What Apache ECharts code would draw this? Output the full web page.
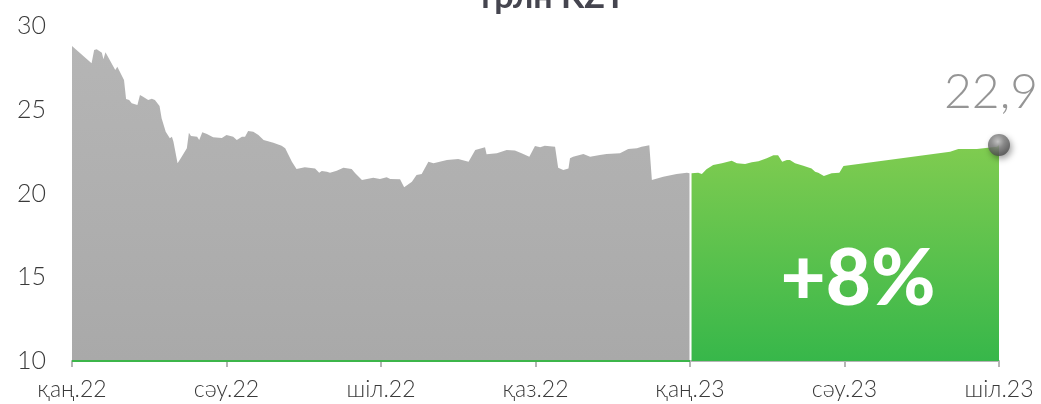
<!DOCTYPE html>
<html>
<head>
<meta charset="utf-8">
<script src="https://cdn.jsdelivr.net/npm/echarts@6/dist/echarts.min.js"></script>
<style>
html,body{margin:0;padding:0;background:#fff;}
#chart{width:1041px;height:404px;}
</style>
</head>
<body>
<div id="chart"></div>
<script>
// x positions are in months since Jan 2022
const tickLabels = ['қаң.22','сәу.22','шіл.22','қаз.22','қаң.23','сәу.23','шіл.23'];

const prevMonths = [0,0.38,0.43,0.48,0.58,0.61,0.65,0.84,0.88,1.01,1.05,1.11,1.16,1.27,1.32,1.38,1.48,1.55,1.61,1.70,1.74,1.77,1.82,1.90,1.94,1.97,2.05,2.13,2.23,2.27,2.31,2.43,2.47,2.53,2.62,2.74,2.91,3.00,3.13,3.20,3.30,3.36,3.42,3.52,3.62,3.72,3.91,4.07,4.14,4.27,4.36,4.52,4.72,4.80,4.85,4.95,5.01,5.14,5.27,5.43,5.50,5.63,5.85,5.98,6.11,6.18,6.37,6.45,6.60,6.69,6.79,6.92,7.02,7.28,7.50,7.70,7.83,8.02,8.05,8.25,8.44,8.60,8.73,8.88,8.99,9.09,9.18,9.38,9.44,9.54,9.64,9.67,9.73,9.93,10.06,10.25,10.38,10.64,10.80,10.97,11.06,11.21,11.26,11.48,11.74,11.94,11.99];
const prevValues = [28.81,27.77,28.57,28.61,28.41,28.01,28.43,27.37,27.57,26.78,25.64,25.58,25.39,25.28,25.88,25.78,25.58,25.66,25.58,25.22,24.49,24.59,23.69,23.30,23.39,23.09,21.80,22.20,22.70,23.63,23.43,23.39,23.19,23.65,23.55,23.36,23.31,23.49,23.39,23.19,23.39,23.39,23.73,23.69,23.49,23.19,23.03,22.85,22.70,21.90,21.46,21.56,21.50,21.24,21.34,21.30,21.24,21.36,21.54,21.46,21.21,20.81,20.94,20.87,20.97,20.87,20.85,20.37,20.70,21.10,21.16,21.90,21.80,22.00,22.06,21.90,22.60,22.76,22.34,22.40,22.60,22.56,22.40,22.20,22.84,22.76,22.85,22.79,21.54,21.40,21.50,22.10,22.20,22.36,22.20,22.30,22.36,22.40,22.66,22.70,22.79,22.88,20.81,21.00,21.16,21.24,21.21];

const currMonths = [12.03,12.16,12.23,12.32,12.45,12.62,12.81,12.91,13.07,13.20,13.33,13.49,13.62,13.71,13.79,13.88,13.94,14.04,14.20,14.36,14.43,14.49,14.60,14.75,14.90,14.98,17.05,17.21,17.44,17.57,17.96,18];
const currValues = [21.21,21.24,21.16,21.45,21.70,21.80,21.96,21.80,21.76,21.86,21.92,22.10,22.28,22.28,21.90,22.00,22.00,21.80,21.66,21.50,21.30,21.24,21.04,21.21,21.24,21.64,22.50,22.66,22.66,22.66,22.79,22.90];

const lastLabel = '22,9';
const changeLabel = '+8%';
const titleText = 'трлн KZT';

const prevData = prevMonths.map((m,i)=>[m, prevValues[i]]);
const currData = currMonths.map((m,i)=>[m, currValues[i]]);
const lastPoint = currData[currData.length-1];

const chart = echarts.init(document.getElementById('chart'));
chart.setOption({
  animation:false,
  grid:{left:72,right:42,top:26,bottom:43},
  xAxis:{
    type:'value',min:0,max:18,interval:3,
    axisLine:{show:true,lineStyle:{color:'#b5b5b5',width:2}},
    axisTick:{show:true,length:6,lineStyle:{color:'#b5b5b5',width:2}},
    splitLine:{show:false},
    axisLabel:{
      showMinLabel:true,showMaxLabel:true,margin:17,
      color:'#3a3a3a',fontSize:23,fontFamily:'Lato',fontWeight:300,
      formatter:(v)=>tickLabels[Math.round(v/3)]
    }
  },
  yAxis:{
    type:'value',min:10,max:30,interval:5,
    axisLine:{show:false},axisTick:{show:false},splitLine:{show:false},
    axisLabel:{margin:26,color:'#3a3a3a',fontSize:25,fontFamily:'Lato',fontWeight:300}
  },
  series:[
    {
      type:'line',data:prevData,showSymbol:false,
      lineStyle:{width:0},
      areaStyle:{origin:'start',opacity:1,color:new echarts.graphic.LinearGradient(0,0,0,1,[
        {offset:0,color:'#b5b5b5'},{offset:1,color:'#a9a9a9'}])},
      markLine:{
        silent:true,symbol:'none',label:{show:false},
        lineStyle:{color:'#3cb54a',width:2,type:'solid'},
        data:[[{coord:[0,10]},{coord:[12,10]}]]
      },
      z:2
    },
    {
      type:'line',data:currData,showSymbol:false,
      lineStyle:{width:0},
      areaStyle:{origin:'start',opacity:1,color:new echarts.graphic.LinearGradient(0,0,0,1,[
        {offset:0,color:'#80cc50'},{offset:1,color:'#37b74a'}])},
      z:2
    },
    {
      type:'scatter',data:[lastPoint],symbolSize:22,z:5,
      itemStyle:{
        color:new echarts.graphic.RadialGradient(0.45,0.35,0.65,[
          {offset:0,color:'#c8c8c8'},{offset:0.45,color:'#808080'},{offset:1,color:'#4a4a4a'}]),
        shadowColor:'rgba(0,0,0,0.45)',shadowBlur:6,shadowOffsetX:2,shadowOffsetY:3
      },
      label:{show:true,position:'top',distance:17,offset:[-8,0],
        formatter:()=>lastLabel,color:'#7a7a7a',fontSize:48,fontFamily:'Lato',fontWeight:300}
    }
  ],
  graphic:[
    {type:'text',x:551,y:-3,style:{text:titleText,x:0,y:0,textAlign:'center',textVerticalAlign:'middle',
      font:'bold 34px Lato',fill:'#45454f'}},
    {type:'text',x:858,y:280,style:{text:changeLabel,textAlign:'center',textVerticalAlign:'middle',
      font:'900 78px Lato',fill:'#ffffff'},z:10}
  ]
});
</script>
</body>
</html>
